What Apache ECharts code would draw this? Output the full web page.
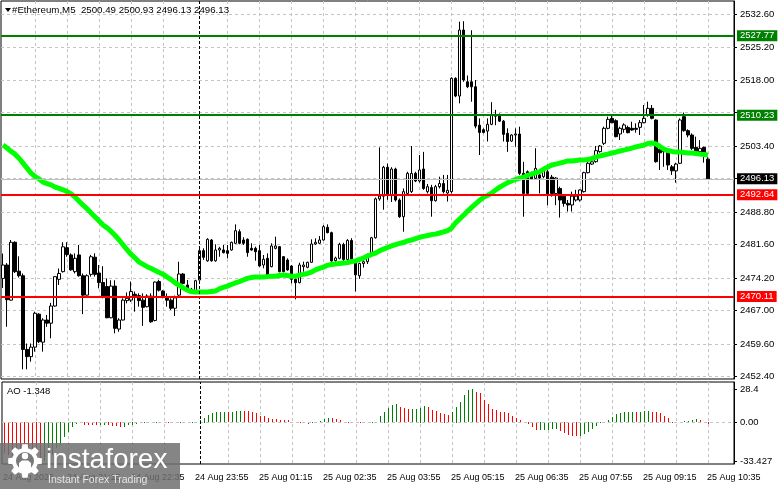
<!DOCTYPE html>
<html><head><meta charset="utf-8">
<script src="https://cdn.jsdelivr.net/npm/echarts@6/dist/echarts.min.js"></script>
<style>html,body{margin:0;padding:0;background:#fff}#c{width:781px;height:489px}</style>
</head><body><div id="c"></div><script>
const symbolTitle = '#Ethereum,M5  2500.49 2500.93 2496.13 2496.13';
const aoTitle = 'AO -1.348';
const xTickLabels = ['24 Aug 2026','24 Aug 21:15','24 Aug 22:35','24 Aug 23:55','25 Aug 01:15','25 Aug 02:35',
  '25 Aug 03:55','25 Aug 05:15','25 Aug 06:35','25 Aug 07:55','25 Aug 09:15','25 Aug 10:35'];
const priceTicks = [2452.40,2459.60,2467.00,2474.20,2481.60,2488.80,2496.20,2503.40,2510.80,2518.00,2525.20,2532.60];
const aoTicks = [-33.427, 0, 28.4];
const aoTickLabels = ['-33.427','0.00','28.4'];
const greenLevels = [2527.77, 2510.23];
const redLevels = [2492.64, 2470.11];
const lastPrice = 2496.13;
const separatorTime = '25 Aug 00:00';

const opens = [
2474.1,2477.07,2469.3,2482.1,2475.7,2474.7,2458.4,2456.8,2458.9,2466.2,
2460.0,2464.9,2464.2,2468.0,2473.9,2475.6,2480.9,2479.3,2475.6,2479.3,
2474.7,2470.4,2475.0,2478.8,2475.3,2473.2,2472.3,2465.4,2472.4,2462.9,
2464.9,2469.2,2469.3,2470.6,2470.3,2469.3,2467.85,2470.2,2464.8,2473.4,
2471.3,2470.07,2469.3,2467.5,2470.4,2475.08,2472.65,2471.7,2471.4,2473.75,
2480.24,2478.0,2482.6,2478.0,2480.39,2480.4,2480.24,2480.4,2481.87,2484.45,
2482.6,2482.75,2480.76,2480.76,2480.24,2477.07,2478.55,2476.7,2480.76,2481.13,
2478.92,2478.18,2476.85,2473.9,2473.16,2476.7,2476.56,2477.66,2481.72,2481.87,
2482.6,2485.4,2484.23,2478.03,2478.55,2481.6,2478.3,2482.5,2477.9,2474.7,
2477.4,2477.8,2479.3,2483.1,2491.7,2492.3,2498.7,2492.5,2498.3,2491.45,
2487.76,2492.9,2493.3,2497.35,2495.65,2498.3,2493.3,2494.2,2491.3,2494.4,
2495.1,2493.0,2493.3,2518.37,2514.46,2529.06,2517.6,2517.6,2516.5,2508.0,
2507.0,2506.7,2508.2,2510.3,2510.3,2508.9,2506.2,2504.5,2505.83,2506.05,
2497.35,2497.7,2497.35,2496.25,2497.0,2496.6,2497.7,2496.5,2492.9,2494.0,
2492.3,2490.7,2490.35,2491.45,2491.45,2493.3,2497.5,2499.4,2499.93,2502.15,
2504.0,2507.31,2509.5,2509.0,2506.06,2507.09,2507.5,2507.31,2507.31,2507.53,
2508.56,2510.26,2511.73,2509.15,2502.7,2502.7,2502.15,2498.8,2497.9,2499.57,
2509.89,2506.79,2505.83,2503.1,2502.15,2503.1,2500.49];
const highs = [
2479.6,2477.5,2482.6,2482.3,2479.0,2475.2,2459.7,2459.7,2466.75,2466.4,
2465.3,2466.0,2468.7,2474.6,2476.3,2482.1,2482.1,2479.65,2479.65,2481.5,
2475.2,2475.0,2479.3,2479.65,2477.07,2476.8,2474.1,2473.7,2473.7,2465.3,
2469.7,2471.0,2473.4,2471.2,2470.8,2470.8,2470.6,2470.8,2473.4,2473.8,
2471.5,2470.8,2469.7,2470.3,2477.8,2475.3,2473.75,2472.0,2473.8,2481.13,
2480.76,2483.0,2482.8,2481.65,2481.1,2481.5,2481.5,2482.24,2486.07,2484.96,
2483.2,2482.97,2481.87,2481.13,2481.5,2479.29,2479.65,2481.87,2483.34,2481.28,
2479.06,2478.55,2477.07,2474.1,2477.59,2477.81,2477.81,2482.75,2482.97,2483.49,
2485.9,2486.07,2484.45,2478.92,2482.0,2482.0,2482.8,2483.0,2478.2,2477.6,
2478.3,2479.6,2483.3,2492.0,2503.1,2499.0,2499.5,2498.7,2498.6,2491.8,
2494.0,2497.7,2503.4,2497.7,2501.4,2502.1,2495.0,2494.8,2494.8,2496.6,
2497.0,2497.0,2518.6,2518.6,2530.9,2531.0,2519.0,2529.0,2518.0,2509.5,
2507.3,2509.5,2513.1,2511.4,2510.6,2509.15,2507.3,2506.0,2507.3,2507.67,
2499.9,2498.0,2497.7,2502.9,2498.1,2498.3,2498.1,2497.0,2496.5,2494.4,
2492.6,2491.45,2493.3,2493.7,2493.8,2497.7,2499.93,2500.5,2503.4,2503.62,
2507.68,2509.89,2510.26,2509.3,2507.68,2508.42,2507.9,2508.78,2508.42,2509.15,
2512.47,2513.2,2512.47,2509.3,2502.9,2503.2,2502.4,2499.2,2499.7,2509.5,
2510.8,2507.1,2506.2,2505.47,2504.7,2503.25,2500.93];
const lows = [
2472.0,2463.4,2469.2,2475.3,2474.3,2454.0,2454.0,2455.7,2457.9,2459.8,
2457.9,2463.4,2460.85,2467.85,2472.65,2475.4,2478.9,2475.8,2475.2,2474.5,
2466.2,2470.3,2474.5,2474.5,2471.9,2469.7,2465.3,2465.3,2461.95,2462.3,
2464.8,2468.6,2468.9,2466.75,2467.85,2463.6,2467.7,2464.3,2464.6,2471.2,
2469.7,2467.85,2467.1,2465.8,2470.2,2472.8,2471.5,2470.9,2471.2,2473.6,
2478.2,2477.8,2477.8,2477.8,2478.9,2479.65,2478.55,2480.24,2481.72,2481.65,
2481.5,2478.9,2480.24,2478.03,2476.7,2476.34,2474.7,2476.56,2480.54,2475.45,
2475.45,2475.82,2473.02,2469.48,2473.02,2475.6,2476.34,2477.59,2481.5,2481.72,
2482.46,2484.08,2477.81,2477.81,2478.33,2477.8,2477.9,2477.7,2471.2,2474.0,
2476.5,2477.3,2479.0,2482.9,2491.3,2489.3,2491.5,2491.0,2491.1,2487.5,
2484.44,2492.7,2493.0,2495.4,2495.3,2493.7,2492.9,2487.76,2491.1,2494.0,
2492.9,2491.1,2492.9,2514.2,2512.84,2517.6,2516.2,2513.2,2507.3,2501.4,
2506.2,2504.4,2508.0,2508.0,2508.7,2504.4,2502.1,2504.3,2503.25,2496.98,
2487.76,2492.5,2495.9,2496.0,2492.9,2496.3,2490.3,2492.2,2490.3,2487.55,
2489.98,2488.9,2488.9,2491.1,2491.1,2493.1,2497.35,2499.2,2499.71,2501.93,
2503.62,2507.09,2508.42,2505.32,2504.73,2506.35,2506.2,2506.79,2506.35,2505.83,
2508.42,2509.89,2509.3,2499.71,2498.1,2498.8,2498.1,2497.0,2495.3,2499.4,
2506.57,2505.32,2502.5,2501.93,2501.78,2499.71,2496.13];
const closes = [
2477.07,2469.4,2482.1,2475.6,2474.7,2458.4,2456.8,2458.9,2466.4,2460.1,
2464.9,2464.2,2468.0,2474.5,2475.2,2481.1,2479.4,2476.0,2478.55,2474.7,
2470.4,2474.7,2478.9,2475.0,2473.2,2470.07,2465.4,2472.4,2463.06,2464.9,
2469.3,2469.7,2471.2,2470.3,2469.2,2467.7,2470.2,2464.5,2473.3,2471.5,
2470.07,2469.3,2467.5,2469.8,2475.08,2473.0,2471.9,2471.2,2473.6,2480.24,
2478.77,2482.75,2478.0,2480.39,2480.76,2479.8,2479.65,2482.09,2484.67,2481.87,
2481.87,2479.8,2480.39,2480.02,2476.85,2478.33,2474.86,2481.28,2481.28,2475.6,
2475.6,2475.97,2473.9,2473.16,2477.07,2477.07,2477.66,2481.72,2482.09,2482.6,
2485.55,2484.23,2477.96,2478.62,2481.65,2478.3,2482.5,2477.9,2474.9,2477.4,
2477.8,2479.3,2483.1,2491.7,2492.3,2498.7,2492.5,2498.3,2491.45,2487.76,
2493.3,2497.35,2497.35,2495.65,2498.1,2494.0,2494.4,2491.3,2494.4,2495.1,
2493.3,2493.6,2518.37,2514.46,2529.06,2518.0,2516.5,2516.5,2507.8,2506.4,
2506.4,2508.2,2510.3,2510.0,2508.9,2505.98,2504.4,2505.83,2506.05,2497.35,
2492.9,2492.9,2496.1,2498.46,2496.3,2498.1,2492.6,2492.9,2496.3,2491.45,
2490.7,2490.35,2492.3,2492.3,2493.67,2497.5,2499.57,2499.9,2502.37,2503.4,
2507.31,2509.3,2508.56,2505.47,2507.31,2508.05,2506.35,2506.94,2507.09,2508.56,
2509.52,2511.73,2509.52,2499.93,2501.9,2502.15,2499.2,2497.9,2499.4,2509.15,
2506.79,2505.83,2502.88,2502.15,2502.88,2501.41,2496.13];
const maValues = [
2503.6,2502.95,2502.2,2501.6,2500.7,2499.6,2498.5,2497.4,2496.65,2496.1,
2495.4,2495.1,2494.8,2494.3,2494.0,2493.7,2493.3,2492.8,2492.1,2491.2,
2490.3,2489.5,2488.6,2487.7,2486.8,2485.9,2485.3,2484.5,2483.6,2482.6,
2481.5,2480.4,2479.4,2478.6,2477.7,2477.2,2476.7,2476.3,2475.85,2475.4,
2475.0,2474.4,2473.85,2473.1,2472.6,2472.0,2471.5,2471.2,2471.1,2471.1,
2471.1,2471.1,2471.2,2471.3,2471.8,2472.1,2472.4,2472.75,2473.1,2473.4,
2473.75,2474.1,2474.3,2474.4,2474.4,2474.4,2474.5,2474.6,2474.6,2474.75,
2474.85,2474.75,2474.6,2474.6,2474.85,2475.0,2475.2,2475.5,2476.0,2476.3,
2476.6,2477.0,2477.2,2477.3,2477.4,2477.5,2477.6,2477.85,2477.95,2478.3,
2478.6,2479.05,2479.4,2479.7,2480.2,2480.6,2480.95,2481.3,2481.6,2481.85,
2482.05,2482.4,2482.6,2482.9,2483.2,2483.4,2483.6,2483.8,2483.9,2484.15,
2484.4,2484.7,2485.25,2486.4,2487.25,2488.1,2489.0,2489.8,2490.6,2491.35,
2492.1,2492.45,2493.0,2493.65,2494.3,2494.8,2495.3,2495.65,2496.0,2496.3,
2496.5,2496.9,2497.2,2497.5,2497.75,2498.3,2498.75,2499.2,2499.4,2499.6,
2499.85,2500.1,2500.1,2500.2,2500.3,2500.3,2500.4,2500.6,2500.95,2501.2,
2501.4,2501.6,2501.85,2502.05,2502.3,2502.5,2502.7,2502.95,2503.2,2503.4,
2503.6,2503.95,2504.05,2503.85,2503.3,2502.7,2502.4,2502.2,2502.05,2502.05,
2501.95,2501.85,2501.85,2501.75,2501.6,2501.5,2501.4];
const aoValues = [
-27,-28,-29,-29.8,-30.5,-31.2,-32,-32.6,-33.1,-33.427,
-33.2,-31,-28,-22.5,-19.5,-13,-9,-4.5,-1.5,-1.0,
-2.5,-2.7,-2.9,-3.0,-2.6,-2.5,-2.9,-3.1,-3.7,-4.4,
-4.2,-3.0,-2.2,-1.4,-1.0,-0.8,-0.7,-0.6,-0.5,-0.6,
-0.7,-0.8,-0.6,-0.5,-0.4,-0.5,-0.6,-0.3,-0.1,2.0,
4.0,6.3,7.7,8.6,8.8,9.0,8.9,9.1,9.4,9.8,
9.7,9.4,8.6,7.7,5.5,5.3,3.4,2.9,2.6,2.0,
1.8,1.7,0.6,0.0,-0.3,-0.9,-1.5,-0.5,0.6,1.5,
2.6,4.0,3.4,2.6,2.0,0.6,0.3,0.1,-0.3,-0.5,
-0.6,-0.5,-0.3,0.6,5.5,9.2,12.0,14.9,15.8,12.9,
12.0,11.5,11.6,11.7,12.6,14.1,13.5,10.6,9.8,7.7,
7.5,6.3,9.2,13.5,17.8,23.5,27.8,28.4,26.5,25.0,
19.2,15.5,11.2,10.6,9.2,8.6,7.7,5.5,3.4,2.0,
0.6,-1.4,-4.0,-7.0,-6.8,-6.6,-6.5,-6.4,-6.2,-8.0,
-9.5,-10.8,-11.8,-12.4,-12.1,-10.5,-8.4,-6.0,-3.5,-1.0,
0.4,2.0,4.3,6.9,7.7,8.6,8.7,8.8,8.6,9.2,
9.3,9.8,9.2,8.6,7.7,5.5,3.4,0.6,0.3,0.5,
0.8,1.2,2.0,2.6,2.0,0.6,-1.348];

const firstBar = {day: 24, hour: 19, minute: 55};
const futureSlots = 6;
function pad(n){return (n<10?'0':'')+n;}
const categories = [];
for (let k = 0; k < opens.length + futureSlots; k++) {
  const t = firstBar.hour*60 + firstBar.minute + 5*k;
  const day = firstBar.day + Math.floor(t/1440);
  const m = t % 1440;
  categories.push(day + ' Aug ' + pad(Math.floor(m/60)) + ':' + pad(m%60));
}
const candleData = opens.map((o,i)=>[o, closes[i], lows[i], highs[i]]);
const aoData = aoValues.map((v,i)=>[i, v]);

const FONT = '"Liberation Sans", Arial, sans-serif';
const GRID_LINE = {color:'#c4c4c4', type:[3,3], width:1};
const hiddenTick = v => greenLevels.concat(redLevels,[lastPrice]).some(l => Math.abs(l - v) < 1.0);

function levelLine(value, color, width, bg){
  return {yAxis:value, lineStyle:{color:color, width:width, type:'solid'},
    label:{show:true, position:'end', distance:3, formatter: value.toFixed(2), color:'#fff',
      backgroundColor:bg, padding:[1,3,0,3], fontSize:9.5, lineHeight:10, fontFamily:FONT}};
}

function gearPoints(cx, cy, rOut, rIn, teeth){
  const pts = []; const step = Math.PI*2/teeth;
  for (let k=0;k<teeth;k++){
    const a = k*step;
    [[-0.32,rIn],[-0.2,rOut],[0.2,rOut],[0.32,rIn]].forEach(([f,r])=>{
      pts.push([cx + r*Math.cos(a+f*step), cy + r*Math.sin(a+f*step)]);
    });
  }
  return pts;
}
const WM = 'rgba(112,112,112,0.85)';

const chart = echarts.init(document.getElementById('c'), null, {renderer:'canvas'});
chart.setOption({
  animation:false,
  backgroundColor:'#fff',
  grid:[
    {left:1, right:47, top:1, bottom:110, show:true, borderColor:'#000', borderWidth:1, backgroundColor:'#fff'},
    {left:1, right:47, top:382, bottom:25, show:true, borderColor:'#000', borderWidth:1, backgroundColor:'#fff'}
  ],
  xAxis:[
    {type:'category', gridIndex:0, data:categories, boundaryGap:true,
     axisLine:{show:false}, axisTick:{show:false}, axisLabel:{show:false},
     splitLine:{show:true, alignWithLabel:true, interval:(i)=> i>0 && i%8===0 && i!==48, lineStyle:GRID_LINE}},
    {type:'category', gridIndex:1, data:categories, boundaryGap:true,
     axisLine:{show:false}, axisTick:{show:false},
     axisLabel:{show:true, interval:(i)=> i%16===0 && i/16 < xTickLabels.length, align:'left', margin:9,
       fontSize:9, color:'#000', fontFamily:FONT, padding:[0,0,0,-1],
       formatter:(v,i)=> xTickLabels[Math.round(i/16)]},
     splitLine:{show:true, alignWithLabel:true, interval:(i)=> i>0 && i%8===0 && i!==48, lineStyle:GRID_LINE}}
  ],
  yAxis:[
    {type:'value', gridIndex:0, position:'right', min:2451.85, max:2535.48,
     axisLine:{show:true, lineStyle:{color:'#000'}},
     axisTick:{show:true, length:3, lineStyle:{color:'#000'}, customValues:priceTicks},
     axisLabel:{show:true, customValues:priceTicks, margin:6, color:'#000', fontSize:9.5, fontFamily:FONT,
       formatter:(v)=> hiddenTick(v) ? '' : Number(v).toFixed(2)},
     splitLine:{show:true, lineStyle:GRID_LINE}},
    {type:'value', gridIndex:1, position:'right', min:-35.89, max:34.68,
     axisLine:{show:true, lineStyle:{color:'#000'}},
     axisTick:{show:true, length:3, lineStyle:{color:'#000'}, customValues:aoTicks},
     axisLabel:{show:true, customValues:aoTicks, margin:6, color:'#000', fontSize:9.5, fontFamily:FONT,
       formatter:(v)=>{const k = aoTicks.findIndex(t=>Math.abs(t-v)<1e-6); return k<0?'':aoTickLabels[k];}},
     splitLine:{show:false}}
  ],
  series:[
    {type:'candlestick', xAxisIndex:0, yAxisIndex:0, data:candleData, barWidth:3,
     itemStyle:{color:'#fff', color0:'#000', borderColor:'#000', borderColor0:'#000', borderWidth:1},
     z:3,
     markLine:{silent:true, symbol:['none','none'], animation:false, z:6,
       data:[
         {xAxis:separatorTime, lineStyle:{color:'#000', type:[3,2], width:1}, label:{show:false}},
         levelLine(lastPrice, '#c0c0c0', 1, '#000'),
         levelLine(greenLevels[0], '#008000', 2, '#008000'),
         levelLine(greenLevels[1], '#008000', 2, '#008000'),
         levelLine(redLevels[0], '#ff0000', 2, '#ff0000'),
         levelLine(redLevels[1], '#ff0000', 2, '#ff0000')
       ]}},
    {type:'line', xAxisIndex:0, yAxisIndex:0, data:maValues, showSymbol:false, smooth:false,
     lineStyle:{color:'#00ff00', width:5}, z:5},
    {type:'custom', xAxisIndex:1, yAxisIndex:1, data:aoData, encode:{x:0, y:1}, z:3,
     renderItem:(params, api)=>{
       const i = api.value(0), v = api.value(1);
       const top = api.coord([i, v]); const base = api.coord([i, 0]);
       const up = i > 0 && aoValues[i] > aoValues[i-1];
       const y0 = Math.round(Math.min(top[1], base[1]));
       const h = Math.max(1, Math.round(Math.abs(top[1]-base[1])));
       return {type:'rect', shape:{x:Math.round(top[0]), y:y0, width:1, height:h},
         style:{fill: up ? '#008000' : '#ff0000'}};
     }},
    {type:'line', xAxisIndex:1, yAxisIndex:1, data:[], 
     markLine:{silent:true, symbol:['none','none'], animation:false,
       data:[
         {yAxis:0, lineStyle:{color:'#c4c4c4', type:[3,3], width:1}, label:{show:false}},
         {xAxis:separatorTime, lineStyle:{color:'#000', type:[3,2], width:1}, label:{show:false}}
       ]}}
  ],
  graphic:[
    {type:'polygon', shape:{points:[[5,8],[11,8],[8,12]]}, style:{fill:'#000'}, z:10},
    {type:'text', left:12, top:5, style:{text:symbolTitle, font:'9.7px '+FONT, fill:'#000'}, z:10},
    {type:'text', left:7, top:386, style:{text:aoTitle, font:'9.5px '+FONT, fill:'#000'}, z:10},
    {type:'rect', shape:{x:0, y:443, width:180, height:46}, style:{fill:WM}, z:20},
    {type:'polygon', shape:{points:gearPoints(25,461,17,13,8)}, style:{fill:'#fff'}, z:21},
    {type:'circle', shape:{cx:25, cy:461, r:9}, style:{fill:'#7a7a7a'}, z:22},
    {type:'circle', shape:{cx:25, cy:456, r:3.2}, style:{fill:'#fff'}, z:23},
    {type:'polygon', shape:{points:[[19,470],[19,463],[22,460.5],[28,460.5],[31,463],[31,470]]}, style:{fill:'#fff'}, z:23},
    {type:'text', left:46, top:446, style:{text:'instaforex', font:'28px '+FONT, fill:'#fff'}, z:23},
    {type:'text', left:48, top:475, style:{text:'Instant Forex Trading', font:'10.5px '+FONT, fill:'#e6e6e6'}, z:23}
  ]
});
</script></body></html>
